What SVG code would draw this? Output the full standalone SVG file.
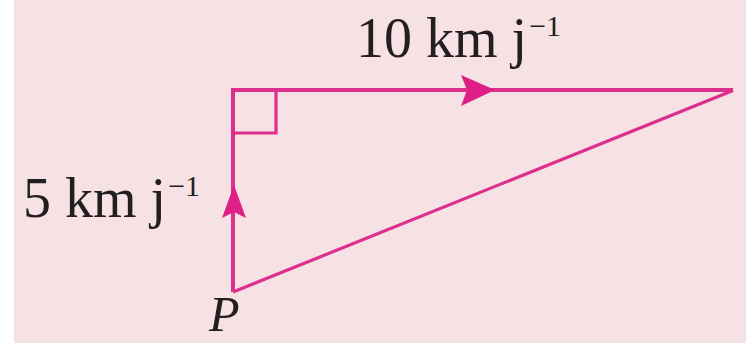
<svg xmlns="http://www.w3.org/2000/svg" width="746" height="343" viewBox="0 0 746 343">
  <style>
    .edge { fill: none; stroke: #dc2f8e; stroke-width: 4; stroke-linejoin: miter; }
    .thin { fill: none; stroke: #dc2f8e; stroke-width: 3.2; }
    .head { fill: #df1f88; stroke: none; }
    .lbl { font-family: "Liberation Serif", "Times New Roman", serif; font-size: 56px; fill: #231f20; }
    .sup { font-size: 30px; }
    .it { font-style: italic; font-size: 50px; }
  </style>
  <rect x="0" y="0" width="746" height="343" fill="#ffffff"/>
  <rect x="14" y="0" width="732" height="343" fill="#f6e1e5"/>
  <g id="connectors">
    <line class="edge" x1="233" y1="292" x2="233" y2="90"/>
    <line class="edge" x1="231" y1="90" x2="733" y2="90"/>
    <line class="thin" x1="233" y1="292" x2="733" y2="90.5"/>
    <path class="thin" d="M233,133 H276 V90"/>
    <polygon class="head" points="495,90 461,75 467,90 461,106"/>
    <polygon class="head" points="234,185 246,218 234,212 222,218"/>
  </g>
  <g id="label-10">
    <text class="lbl" x="356" y="57">10 km j<tspan class="sup" dx="2" dy="-21">−1</tspan></text>
  </g>
  <g id="label-5">
    <text class="lbl" x="23" y="217">5 km j<tspan class="sup" dx="2" dy="-21">−1</tspan></text>
  </g>
  <g id="node-P">
    <text class="lbl it" x="209" y="331">P</text>
  </g>
</svg>
